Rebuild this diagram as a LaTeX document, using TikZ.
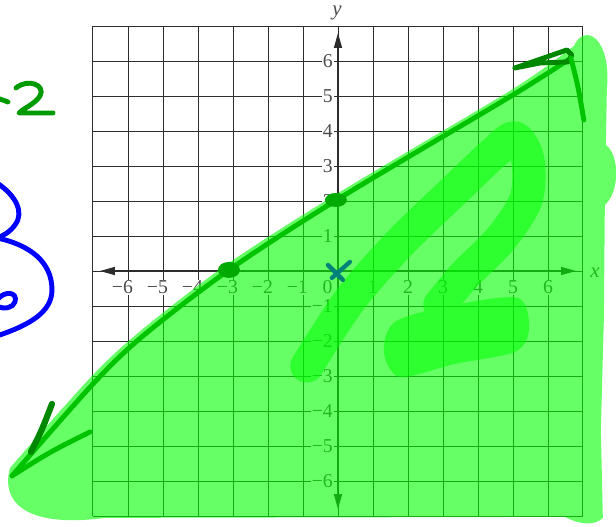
\documentclass[tikz,border=0pt]{standalone}
\usepackage{fontspec}
\setmainfont{Liberation Serif}
\usetikzlibrary{arrows.meta}
\definecolor{GridInk}{RGB}{45,45,45}
\definecolor{LabelInk}{RGB}{75,75,75}
\definecolor{MarkerGreen}{RGB}{0,255,0}
\definecolor{LineGreen}{RGB}{0,195,0}
\definecolor{DotGreen}{RGB}{0,170,0}
\definecolor{DarkPen}{RGB}{0,135,0}
\definecolor{PenGreen}{RGB}{0,155,0}
\definecolor{PenBlue}{RGB}{0,0,255}
\definecolor{PenTeal}{RGB}{0,130,120}
\tikzset{
  gridline/.style={draw=GridInk,line width=0.8pt},
  axis/.style={{Triangle[length=12pt,width=6.5pt]}-{Triangle[length=12pt,width=6.5pt]},
    draw=GridInk,line width=0.9pt},
  ticklabel/.style={fill=white,inner sep=0.6pt,text=LabelInk,
    font=\fontsize{16}{18}\selectfont},
  axislabel/.style={text=LabelInk,font=\fontsize{17}{19}\selectfont\itshape},
  pix/.style={shift={(-9.657,7.743)},x=0.028571cm,y=-0.028571cm},
  pen/.style={line width=4pt,line cap=round,line join=round},
  marker/.style={line width=27pt,line cap=round,line join=round}
}
\begin{document}
\begin{tikzpicture}
  \useasboundingbox (-9.657,-7.286) rectangle (7.943,7.743);
  \draw[gridline] (-7,-7) grid (7,7);
  \coordinate (xmin) at (-6.8,0);
  \coordinate (xmax) at (6.8,0);
  \coordinate (ymin) at (0,-6.8);
  \coordinate (ymax) at (0,6.8);
  \draw[axis] (xmin) -- (xmax);
  \draw[axis] (ymin) -- (ymax);
  \foreach \i in {1,...,6}{
    \node[ticklabel] (xp\i) at (\i,-0.47) {\i};
    \node[ticklabel] (xn\i) at (-\i,-0.47) {\llap{−}\i};
    \node[ticklabel,anchor=east] (yp\i) at (-0.12,\i) {\i};
    \node[ticklabel,anchor=east] (yn\i) at (-0.12,-\i) {−\i};
  }
  \node[ticklabel] (xzero) at (-0.3,-0.45) {0};
  \node[axislabel] (xname) at (7.34,-0.05) {x};
  \node[axislabel] (yname) at (-0.03,7.37) {y};

  \begin{scope}[pix]
    \fill[MarkerGreen,opacity=0.6] plot[smooth] coordinates {(574,46) (513,89) (340,192) (229,263) (143,329) (92,376) (10,468)}
      .. controls (0,505) and (30,528) .. (105,518) -- (565,517)
      .. controls (580,525) and (595,526) .. (603,518) -- (601,430) -- (604,320) -- (605,205)
      .. controls (620,192) and (620,155) .. (606,145) -- (607,90)
      .. controls (612,38) and (585,22) .. (574,46) -- cycle;
    \begin{scope}[transparency group,opacity=0.55]
      \draw[marker,MarkerGreen] plot[smooth] coordinates {(307,366) (350,300) (400,243) (455,190) (495,152) (515,138) (528,160) (526,200) (500,240) (465,275) (440,305)};
      \fill[MarkerGreen] plot[smooth cycle] coordinates {(395,322) (450,306) (518,298) (529,330) (515,352) (455,364) (400,377) (384,352)};
    \end{scope}
    \draw[pen,LineGreen] plot[smooth] coordinates {(568,60) (513,95) (340,198) (229,270) (143,336) (93,384) (12,476)};
    \coordinate (xcut) at (229,270);
    \coordinate (ycut) at (336,200);
    \fill[DotGreen] (ycut) ellipse [x radius=11,y radius=7];
    \fill[DotGreen] (xcut) ellipse [x radius=11,y radius=8];
    \draw[pen,DarkPen] (515,68) -- (567,50) -- (572,55) -- (568,62) -- (540,63) -- (515,68);
    \draw[pen,LineGreen] (571,58) .. controls (578,85) .. (584,120);
    \draw[pen,LineGreen] (12,476) .. controls (50,452) .. (90,432);
    \draw[pen,DarkPen,line width=5pt] (52,404) .. controls (42,430) .. (31,452);
    \draw[pen,PenTeal,line width=3.5pt] (328,265) -- (343,280);
    \draw[pen,PenTeal,line width=3.5pt] (332,278) -- (350,262);
    \draw[pen,PenGreen] (0,99) -- (8,102);
    \draw[pen,PenGreen] (16,88) .. controls (28,78) and (46,85) .. (40,96)
      .. controls (35,104) and (24,108) .. (19,113) -- (53,113);
    \draw[pen,PenBlue] (-3,183) .. controls (15,195) and (25,212) .. (15,225)
      .. controls (10,232) and (3,236) .. (-3,238);
    \draw[pen,PenBlue] (-3,238) .. controls (30,245) and (52,262) .. (52,290)
      .. controls (52,312) and (30,325) .. (-3,336);
    \draw[pen,PenBlue] (-3,300) .. controls (5,290) and (18,292) .. (15,302)
      .. controls (13,308) and (4,310) .. (-3,306);
  \end{scope}
\end{tikzpicture}
\end{document}
